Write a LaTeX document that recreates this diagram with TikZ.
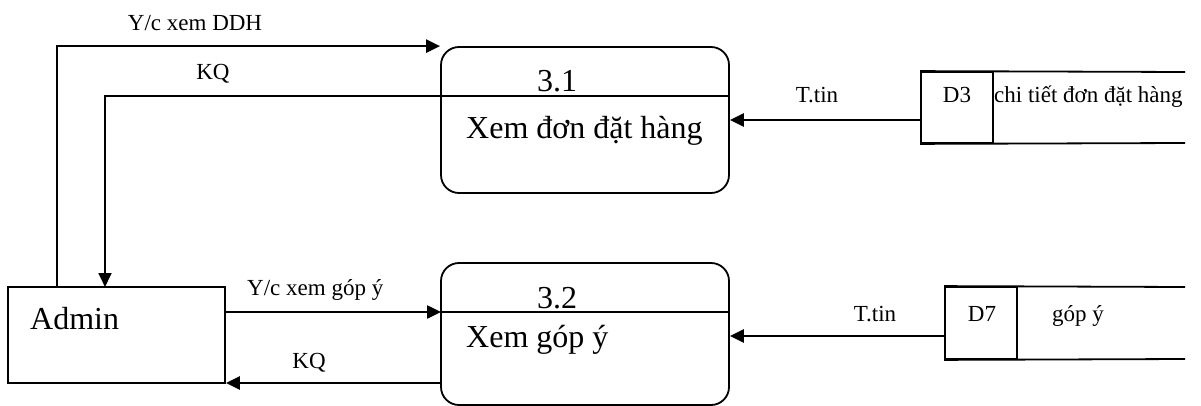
\documentclass[tikz,border=0pt]{standalone}
\usepackage{fontspec}
\setmainfont{Liberation Serif}
\usetikzlibrary{arrows.meta}
\tikzset{
  big/.style={font=\fontsize{32}{38}\selectfont, inner sep=0pt},
  small/.style={font=\fontsize{23}{27}\selectfont, inner sep=0pt},
  proc/.style={draw, line width=1.8pt, rounded corners=18pt, inner sep=0pt},
  ent/.style={draw, line width=1.8pt, inner sep=0pt},
  cell/.style={draw, line width=1.8pt, inner sep=0pt},
  flow/.style={line width=2.5pt, -{Triangle[length=14pt,width=13pt]}},
  thinflow/.style={line width=1.8pt, -{Triangle[length=14pt,width=13pt]}},
  divider/.style={line width=1.3pt},
  storeline/.style={line width=1.8pt},
}
\begin{document}
\begin{tikzpicture}[x=1pt,y=-1pt]
\useasboundingbox (0,0) rectangle (1201,406);
% processes
\node[proc, minimum width=288pt, minimum height=146pt] (p31) at (585,120) {};
\node[proc, minimum width=288pt, minimum height=142pt] (p32) at (585,334) {};
\node[ent, minimum width=217pt, minimum height=96pt] (admin) at (116.5,335) {};
% dividers
\coordinate (d31w) at (441,96);
\coordinate (d31e) at (729,96);
\coordinate (d32w) at (441,312);
\coordinate (d32e) at (729,312);
\draw[divider] (d31w) -- (d31e);
\draw[divider] (d32w) -- (d32e);
% texts in processes
\node[big, anchor=base] (n31) at (557,92) {3.1};
\node[big, anchor=base west] (t31) at (466,139) {Xem đơn đặt hàng};
\node[big, anchor=base] (n32) at (557,308) {3.2};
\node[big, anchor=base west] (t32) at (466,347) {Xem góp ý};
\node[big, anchor=base west] (tadmin) at (30,329) {Admin};
% data stores
\node[cell, minimum width=72pt, minimum height=71pt] (d3) at (957,107.5) {};
\coordinate (d3ne) at (1185,72);
\coordinate (d3se) at (1185,143);
\draw[storeline] (d3.north west) -- (d3ne);
\draw[storeline] (d3.south west) -- (d3se);
\node[small, anchor=base] (d3id) at (957,103) {D3};
\node[small, anchor=base west] (d3name) at (994,103) {chi tiết đơn đặt hàng};
\node[cell, minimum width=72pt, minimum height=72pt] (d7) at (981,323) {};
\coordinate (d7ne) at (1185,287);
\coordinate (d7se) at (1185,359);
\draw[storeline] (d7.north west) -- (d7ne);
\draw[storeline] (d7.south west) -- (d7se);
\node[small, anchor=base] (d7id) at (982,321) {D7};
\node[small, anchor=base west] (d7name) at (1052,321) {góp ý};
% flows
\coordinate (a1) at (57,287);
\coordinate (a2) at (105,287);
\draw[flow] (a1) |- (p31.north west);
\node[small, anchor=base] (l1) at (195,31) {Y/c xem DDH};
\draw[thinflow] (d31w) -| (a2);
\node[small, anchor=base] (l2) at (213,80) {KQ};
\draw[flow] (d3.west |- 0,120) -- (p31.east |- 0,120);
\node[small, anchor=base] (l3) at (817,103) {T.tin};
\draw[flow] (admin.east |- d32w) -- (d32w);
\node[small, anchor=base west] (l4) at (247,295) {Y/c xem góp ý};
\draw[flow] (p32.west |- 0,383) -- (admin.east |- 0,383);
\node[small, anchor=base] (l5) at (309,368) {KQ};
\draw[flow] (d7.west |- 0,336) -- (p32.east |- 0,336);
\node[small, anchor=base] (l6) at (875,321) {T.tin};
\end{tikzpicture}
\end{document}
